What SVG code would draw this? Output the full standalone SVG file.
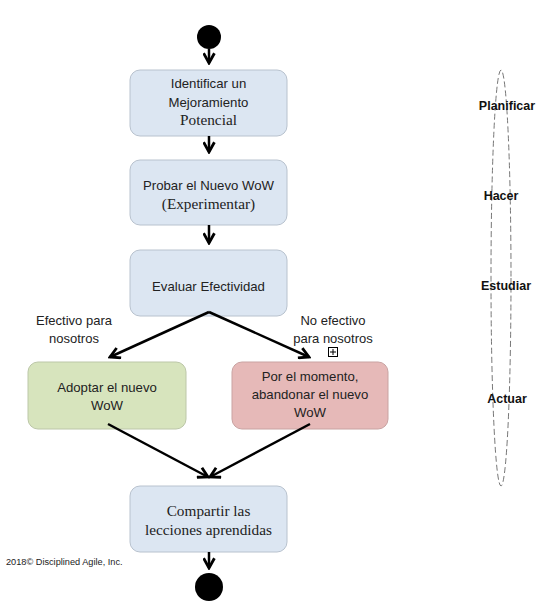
<svg xmlns="http://www.w3.org/2000/svg" width="549" height="607" viewBox="0 0 549 607">
<defs>
<marker id="arr" viewBox="0 0 12 12" refX="10" refY="6" markerWidth="13" markerHeight="13" markerUnits="userSpaceOnUse" orient="auto">
<path d="M1,1 L10,6 L1,11" fill="none" stroke="#000" stroke-width="2.6"/>
</marker>
<style>
.blue{fill:#dce6f2;stroke:#b8c2ce;stroke-width:1}
.green{fill:#d7e4bd;stroke:#bcc7a8;stroke-width:1}
.red{fill:#e6b9b8;stroke:#c9a3a2;stroke-width:1}
.t{font-family:"Liberation Sans",Arial,sans-serif;font-size:13.2px;fill:#222;text-anchor:middle}
.s{font-family:"Liberation Serif","Times New Roman",serif;font-size:15.3px;fill:#222;text-anchor:middle}
.lbl{font-family:"Liberation Sans",Arial,sans-serif;font-size:13px;fill:#222;text-anchor:middle}
.ph{font-family:"Liberation Sans",Arial,sans-serif;font-size:12.5px;font-weight:bold;fill:#111;text-anchor:middle}
.c{stroke:#000;stroke-width:2.5;fill:none;marker-end:url(#arr)}
</style>
</defs>
<rect width="549" height="607" fill="#fff"/>
<g id="start"><circle cx="209" cy="37" r="12" fill="#000"/></g>
<g id="n1"><rect class="blue" x="130" y="70" width="157" height="66" rx="10"/>
<text class="t" x="208.5" y="88">Identificar un</text>
<text class="t" x="208.5" y="107">Mejoramiento</text>
<text class="s" x="208.5" y="125">Potencial</text></g>
<g id="n2"><rect class="blue" x="130" y="160" width="157" height="65" rx="10"/>
<text class="t" x="208.5" y="190">Probar el Nuevo WoW</text>
<text class="s" x="208.5" y="209">(Experimentar)</text></g>
<g id="n3"><rect class="blue" x="130" y="250" width="157" height="66" rx="10"/>
<text class="t" x="208.5" y="291">Evaluar Efectividad</text></g>
<g id="n4"><rect class="green" x="28" y="362" width="158" height="67" rx="10"/>
<text class="t" x="107" y="392">Adoptar el nuevo</text>
<text class="t" x="107" y="410">WoW</text></g>
<g id="n5"><rect class="red" x="232" y="362" width="156" height="67" rx="10"/>
<text class="t" x="310" y="381">Por el momento,</text>
<text class="t" x="310" y="399">abandonar el nuevo</text>
<text class="t" x="310" y="417">WoW</text>
</g>
<g id="n6"><rect class="blue" x="130" y="486" width="157" height="66" rx="10"/>
<text class="s" x="208.5" y="516">Compartir las</text>
<text class="s" x="208.5" y="535">lecciones aprendidas</text></g>
<g id="end"><circle cx="209" cy="587" r="14" fill="#000"/></g>
<g id="connectors">
<line class="c" x1="209" y1="49" x2="209" y2="63"/>
<line class="c" x1="209" y1="136" x2="209" y2="152"/>
<line class="c" x1="209" y1="225" x2="209" y2="243"/>
<line class="c" x1="209" y1="312" x2="110" y2="357"/>
<line class="c" x1="209" y1="312" x2="309" y2="357"/>
<line class="c" x1="108" y1="424" x2="208" y2="477"/>
<line class="c" x1="310" y1="424" x2="210" y2="477"/>
<line class="c" x1="209" y1="552" x2="209" y2="568"/>
</g>
<g id="labels">
<text class="lbl" x="74" y="325">Efectivo para</text>
<text class="lbl" x="74" y="343">nosotros</text>
<text class="lbl" x="333" y="325">No efectivo</text>
<text class="lbl" x="333" y="343">para nosotros</text>
<g id="plus"><rect x="328.5" y="347.5" width="9" height="9" fill="#fff" stroke="#000" stroke-width="1"/>
<path d="M330,352 H336 M333,349 V355" stroke="#000" stroke-width="1"/></g>
</g>
<g id="phases">
<ellipse cx="501" cy="278" rx="10" ry="208" fill="none" stroke="#777" stroke-width="1" stroke-dasharray="6,3"/>
<text class="ph" x="507" y="110">Planificar</text>
<text class="ph" x="501" y="200">Hacer</text>
<text class="ph" x="506" y="290">Estudiar</text>
<text class="ph" x="507" y="403">Actuar</text>
</g>
<text x="6" y="565" font-family="'Liberation Sans',Arial,sans-serif" font-size="9.2px" fill="#222">2018© Disciplined Agile, Inc.</text>
</svg>
